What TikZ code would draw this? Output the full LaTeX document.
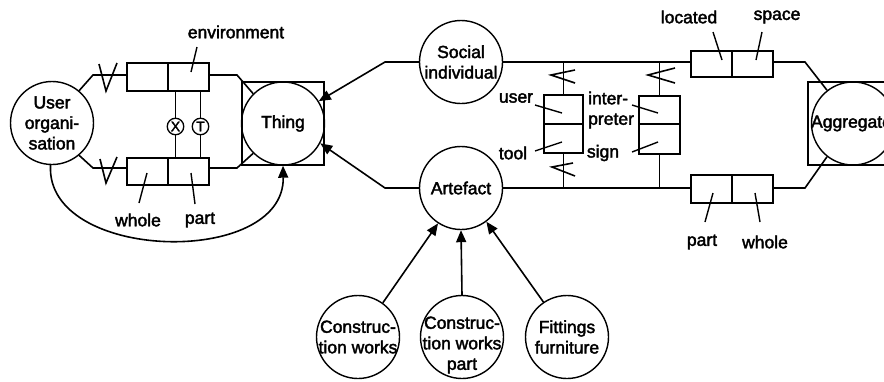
\documentclass[tikz,border=0pt]{standalone}
\usepackage{fontspec}
\newfontfamily\lbl{Liberation Sans}[FakeBold=2.2]
\usetikzlibrary{arrows.meta}
\tikzset{
  every node/.style={font=\lbl\fontsize{17.5}{20.5}\selectfont},
  circ/.style={circle, draw, line width=1.4pt, minimum size=83pt, inner sep=0pt},
  lblc/.style={align=center, inner sep=0pt},
  sq/.style={rectangle, draw, line width=1.3pt, inner sep=0pt},
  cell/.style={rectangle, draw, line width=1.4pt, inner sep=0pt},
  smallc/.style={circle, draw, line width=1.3pt, minimum size=16.5pt, inner sep=0pt, font=\lbl\fontsize{14}{14}\selectfont},
  conn/.style={line width=1.6pt},
  arr/.style={line width=1.6pt, -{Triangle[length=12pt,width=10pt]}},
  lead/.style={line width=1.4pt},
  txt/.style={inner sep=0pt}
}
\begin{document}
\begin{tikzpicture}[x=1pt,y=-1pt]
\fill[white] (0,0) rectangle (884,381);
\useasboundingbox (0,0) rectangle (884,381);

% main circles
\node[circ, label={[lblc]center:User\\organi-\\sation}] (uo) at (52,123) {};
\node[sq, minimum width=82pt, minimum height=83pt] (thingsq) at (283,123.5) {};
\node[circ, label={[lblc]center:Thing}] (thing) at (283,123.5) {};
\node[circ, label={[lblc]center:Social\\individual}] (soc) at (461,62) {};
\node[circ, label={[lblc]center:Artefact}] (art) at (461,188) {};
\node[sq, minimum width=84pt, minimum height=83pt] (aggsq) at (850,123.5) {};
\node[circ, label={[lblc,xshift=-1.5pt]center:Aggregate}] (agg) at (853,123.5) {};
\node[circ, label={[lblc]center:Construc-\\tion works}] (cw) at (358,337) {};
\node[circ, label={[lblc,yshift=-8pt]center:Construc-\\tion works\\part}] (cwp) at (462,337) {};
\node[circ, label={[lblc]center:Fittings\\furniture}] (ff) at (567,337) {};

% two-cell boxes
\node[cell, minimum width=41pt, minimum height=28pt] (envL) at (147.5,77) {};
\node[cell, minimum width=41pt, minimum height=28pt] (envR) at (188.5,77) {};
\node[cell, minimum width=41pt, minimum height=27pt] (wl) at (147.5,171.5) {};
\node[cell, minimum width=41pt, minimum height=27pt] (pl) at (188.5,171.5) {};
\node[cell, minimum width=39pt, minimum height=29pt] (user) at (563.5,109.5) {};
\node[cell, minimum width=39pt, minimum height=29pt] (toolc) at (563.5,138.5) {};
\node[cell, minimum width=41pt, minimum height=28pt] (interp) at (659.5,110) {};
\node[cell, minimum width=41pt, minimum height=30pt] (signc) at (659.5,139) {};
\node[cell, minimum width=41pt, minimum height=26pt] (loc) at (711.5,64) {};
\node[cell, minimum width=41pt, minimum height=26pt] (spc) at (752.5,64) {};
\node[cell, minimum width=41pt, minimum height=28pt] (pr) at (711.5,189) {};
\node[cell, minimum width=41pt, minimum height=28pt] (wr) at (752.5,189) {};

% small circles
\node[smallc] (xc) at (175.5,126.5) {X};
\node[smallc] (tc) at (200.5,126.5) {T};

% left connectors
\coordinate (a1) at (93,75);
\coordinate (a2) at (93,168);
\coordinate (a3) at (237,75);
\coordinate (a4) at (237,168);
\draw[conn] (uo.50) -- (a1) -- (a1 -| envL.west);
\draw[conn] (uo.-50) -- (a2) -- (a2 -| wl.west);
\draw[conn] (a3 -| envR.east) -- (a3) -- (thing.135);
\draw[conn] (a4 -| pl.east) -- (a4) -- (thing.-135);
\draw[conn] (xc.north) -- (xc.north |- envR.south);
\draw[conn] (xc.south) -- (xc.south |- pl.north);
\draw[conn] (tc.north) -- (tc.north |- envR.south);
\draw[conn] (tc.south) -- (tc.south |- pl.north);
\draw[arr] (uo.-92) .. controls (45,262) and (285,268) .. (thing.south);

% cardinality marks
\draw[conn] (99,64) -- (106,91) -- (117,63);
\draw[conn] (100,159) -- (106,183) -- (117,157);
\draw[conn] (575,70) -- (551,75) -- (575,83);
\draw[conn] (573,163) -- (552,167) -- (575,176);
\draw[conn] (675,68) -- (648,75) -- (675,83);

% arrows into Thing
\coordinate (s1) at (385,62);
\coordinate (s2) at (385,188);
\draw[arr] (soc.west) -- (s1) -- (thing.32);
\draw[arr] (art.west) -- (s2) -- (thing.-28);

% right connectors
\draw[conn] (soc.east) -- (soc.east -| loc.west);
\draw[conn] (art.east) -- (art.east -| pr.west);
\draw[conn] (user.north) -- (user.north |- soc.east);
\draw[conn] (toolc.south) -- (toolc.south |- art.east);
\draw[conn] (interp.north) -- (interp.north |- soc.east);
\draw[conn] (signc.south) -- (signc.south |- art.east);
\coordinate (r1) at (805,62);
\coordinate (r2) at (805,188);
\draw[conn] (spc.east |- soc.east) -- (r1) -- (agg.128);
\draw[conn] (wr.east |- art.east) -- (r2) -- (agg.-128);

% bottom arrows
\draw[arr] (cw.54) -- (art.-123);
\draw[arr] (cwp.north) -- (art.south);
\draw[arr] (ff.124) -- (art.-53);

% labels and leaders
\node[txt] (tenv) at (236,32) {environment};
\node[txt] (twhole) at (138,220) {whole};
\node[txt] (tpart) at (200,220) {part};
\node[txt] (tuser) at (516,98) {user};
\node[txt] (ttool) at (513,153) {tool};
\node[txt, anchor=west, align=left] (tinterp) at (588,110) {inter-\\preter};
\node[txt] (tsign) at (603,153) {sign};
\node[txt] (tloc) at (689,17) {located};
\node[txt] (tspace) at (777,17) {space};
\node[txt] (tpart2) at (702,242) {part};
\node[txt] (twhole2) at (765,242) {whole};

\draw[lead] (197,47) -- (191,72);
\draw[lead] (139,203) -- (147,173);
\draw[lead] (195,204) -- (191,173);
\draw[lead] (535,105) -- (562,113);
\draw[lead] (535,151) -- (562,142);
\draw[lead] (632,105) -- (658,113);
\draw[lead] (632,152) -- (658,142);
\draw[lead] (713,32) -- (722,60);
\draw[lead] (762,32) -- (756,60);
\draw[lead] (705,222) -- (713,193);
\draw[lead] (760,222) -- (755,193);
\end{tikzpicture}
\end{document}
